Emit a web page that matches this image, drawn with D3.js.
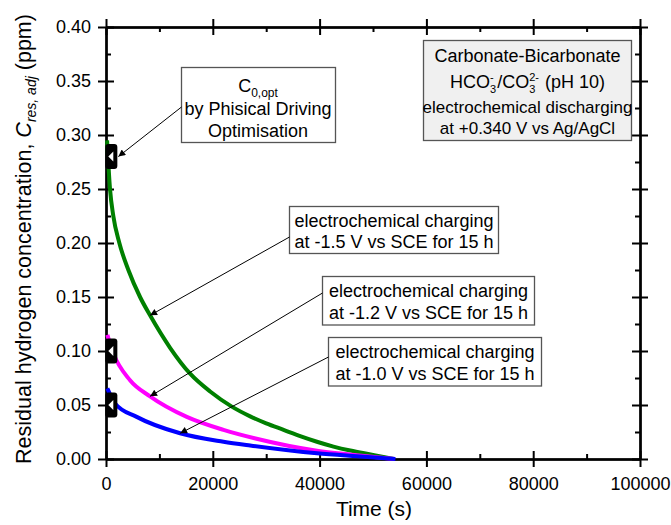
<!DOCTYPE html>
<html>
<head>
<meta charset="utf-8">
<script src="https://cdn.jsdelivr.net/npm/d3@7"></script>
<style>
  html, body { margin: 0; padding: 0; background: #fff; }
  svg { display: block; }
  text { font-family: "Liberation Sans", Arial, sans-serif; fill: #000; }
</style>
</head>
<body>
<svg id="chart" width="671" height="525"></svg>
<script>
// Residual hydrogen concentration during discharging, time in s, concentration in ppm
const time15 = [200, 750, 1370, 2500, 4190, 6375, 8250, 12000, 15750, 19500, 23560, 27000, 30000, 33250, 36500, 39500, 42600, 45750, 50000, 53870];
const conc15 = [0.295, 0.25, 0.225, 0.20, 0.175, 0.15, 0.133, 0.103, 0.079, 0.0625, 0.0485, 0.0395, 0.033, 0.027, 0.021, 0.016, 0.0115, 0.0078, 0.0038, 0.0];

const time12 = [250, 1370, 4500, 8250, 15130, 22000, 28000, 39500, 46000, 54000];
const conc12 = [0.115, 0.098, 0.073, 0.058, 0.039, 0.027, 0.019, 0.0077, 0.004, 0.0];

const time10 = [250, 1690, 5750, 13880, 22000, 27000, 39500, 47000, 54200];
const conc10 = [0.0654, 0.0515, 0.039, 0.0238, 0.016, 0.0125, 0.0053, 0.0025, 0.0];

// Optimised initial concentrations C0,opt
const c0Time = 1000;
const c0Values = [0.28, 0.10, 0.05];

const xTicks = [0, 20000, 40000, 60000, 80000, 100000];
const yTicks = [0.00, 0.05, 0.10, 0.15, 0.20, 0.25, 0.30, 0.35, 0.40];

const svg = d3.select("#chart");
const plotL = 106, plotR = 640, plotT = 27, plotB = 459;

const x = d3.scaleLinear().domain([0, 100000]).range([plotL, plotR]);
const y = d3.scaleLinear().domain([0, 0.4]).range([plotB, plotT]);

const xMinor = d3.range(0, 100001, 10000).filter(v => !xTicks.includes(v));
const yMinor = d3.range(0.025, 0.4, 0.05);

// ---- axes (box frame) ----
function styleAxis(g) {
  g.select(".domain").attr("stroke", "#000").attr("stroke-width", 2);
  g.selectAll(".tick line").attr("stroke", "#000").attr("stroke-width", 2);
  g.selectAll(".tick text").style("font-size", "18px").style("font-family", '"Liberation Sans", Arial, sans-serif');
}

// each side: outward major ticks, inward major ticks, inward minor ticks
function side(axisGen, scale, translate, majors, minors, fmt, pad) {
  svg.append("g").attr("transform", translate)
    .call(axisGen(scale).tickValues(majors).tickFormat(fmt || "").tickSizeInner(8).tickSizeOuter(0).tickPadding(pad || 3)).call(styleAxis);
  svg.append("g").attr("transform", translate)
    .call(axisGen(scale).tickValues(majors).tickFormat("").tickSizeInner(-8).tickSizeOuter(0)).call(styleAxis);
  svg.append("g").attr("transform", translate)
    .call(axisGen(scale).tickValues(minors).tickFormat("").tickSizeInner(-5).tickSizeOuter(0)).call(styleAxis);
}
side(d3.axisBottom, x, `translate(0,${plotB})`, xTicks, xMinor, d3.format("d"), 10);
side(d3.axisTop, x, `translate(0,${plotT})`, xTicks, xMinor);
side(d3.axisLeft, y, `translate(${plotL},0)`, yTicks, yMinor, d3.format(".2f"), 7);
side(d3.axisRight, y, `translate(${plotR},0)`, yTicks, yMinor);

// ---- axis titles ----
svg.append("text").attr("x", 374).attr("y", 516).attr("text-anchor", "middle")
  .style("font-size", "21px").text("Time (s)");

const yl = svg.append("text").attr("transform", "translate(31,239) rotate(-90)")
  .attr("text-anchor", "middle").style("font-size", "21.5px");
yl.append("tspan").text("Residual hydrogen concentration, ");
yl.append("tspan").style("font-style", "italic").text("C");
yl.append("tspan").style("font-style", "italic").style("font-size", "14px").attr("dy", 5).text("res, adj");
yl.append("tspan").attr("dy", -5).text(" (ppm)");

// ---- curves ----
const line = d3.line().x(d => x(d[0])).y(d => y(d[1])).curve(d3.curveMonotoneX);
const series = [
  { t: time15, c: conc15, color: "#008000" },
  { t: time12, c: conc12, color: "#ff00ff" },
  { t: time10, c: conc10, color: "#0000ff" }
];
svg.append("g").selectAll("path").data(series).join("path")
  .attr("d", s => line(s.t.map((t, i) => [t, s.c[i]])))
  .attr("fill", "none").attr("stroke", s => s.color).attr("stroke-width", 4);

// ---- C0,opt markers ----
const mk = svg.append("g").selectAll("g").data(c0Values).join("g")
  .attr("transform", v => `translate(${x(c0Time)},${y(v)})`);
mk.append("rect").attr("x", -6).attr("y", -12.5).attr("width", 12).attr("height", 25)
  .attr("rx", 3).attr("fill", "#000");
mk.append("path").attr("d", "M-3,0 L2,-5 L2,5 Z").attr("fill", "#fff");

// ---- annotations ----
const defs = svg.append("defs");
defs.append("marker").attr("id", "ah").attr("viewBox", "0 0 10 10")
  .attr("refX", 10).attr("refY", 5).attr("markerWidth", 11).attr("markerHeight", 7)
  .attr("markerUnits", "userSpaceOnUse").attr("orient", "auto")
  .append("path").attr("d", "M0,0 L10,5 L0,10 Z").attr("fill", "#000");

function arrow(x1, y1, x2, y2) {
  svg.append("line").attr("x1", x1).attr("y1", y1).attr("x2", x2).attr("y2", y2)
    .attr("stroke", "#000").attr("stroke-width", 1).attr("marker-end", "url(#ah)");
}
function box(bx, by, bw, bh, fill) {
  svg.append("rect").attr("x", bx).attr("y", by).attr("width", bw).attr("height", bh)
    .attr("fill", fill).attr("stroke", "#555").attr("stroke-width", 1.3);
}
function label(tx, ty, txt, size) {
  return svg.append("text").attr("x", tx).attr("y", ty).attr("text-anchor", "middle")
    .style("font-size", size + "px").text(txt);
}

// C0,opt box
box(181.5, 67.5, 154, 75, "#fff");
const c0 = svg.append("text").attr("x", 258).attr("y", 92).attr("text-anchor", "middle").style("font-size", "18px");
c0.append("tspan").text("C");
c0.append("tspan").style("font-size", "12px").attr("dy", 5).text("0,opt");
label(258, 115, "by Phisical Driving", 18);
label(258, 137, "Optimisation", 18);
arrow(181.5, 107, x(c0Time) + 7, y(c0Values[0]));

// electrolyte box
box(423.5, 40.5, 208, 100, "#f0f0f0");
label(527.5, 62, "Carbonate-Bicarbonate", 18);

// HCO3-/CO32- (pH 10): pieces laid out left to right, scripts stacked
(function () {
  const base = 88, cx = 527.5;
  const parts = [
    { t: "HCO", size: 18, dy: 0 },
    { t: "3", size: 11, dy: 5, sup: "-" },
    { t: "/CO", size: 18, dy: 0 },
    { t: "3", size: 11, dy: 5, sup: "2-" },
    { t: " (pH 10)", size: 18, dy: 0 }
  ];
  const g = svg.append("g");
  let cur = 0;
  parts.forEach(p => {
    const t = g.append("text").attr("x", cur).attr("y", base + p.dy)
      .style("font-size", p.size + "px").attr("xml:space", "preserve").text(p.t);
    let w = t.node().getComputedTextLength();
    if (p.sup) {
      const s = g.append("text").attr("x", cur).attr("y", base - 7)
        .style("font-size", p.size + "px").text(p.sup);
      w = Math.max(w, s.node().getComputedTextLength());
    }
    cur += w + (p.sup ? 1 : 0);
  });
  g.attr("transform", `translate(${cx - cur / 2},0)`);
})();

label(527.5, 113, "electrochemical discharging", 17);
label(527.5, 134, "at +0.340 V vs Ag/AgCl", 17);

// charging condition boxes
box(289.5, 206.5, 209, 47, "#fff");
label(394, 226.5, "electrochemical charging", 18);
label(394, 248, "at -1.5 V vs SCE for 15 h", 18);
arrow(289.5, 237, x(8250), y(0.133));

box(322.5, 276.5, 212, 48.5, "#fff");
label(428.5, 296.5, "electrochemical charging", 18);
label(428.5, 319, "at -1.2 V vs SCE for 15 h", 18);
arrow(322.5, 293, x(8250), y(0.058));

box(328.5, 337.5, 213, 48.5, "#fff");
label(435, 357.5, "electrochemical charging", 18);
label(435, 380, "at -1.0 V vs SCE for 15 h", 18);
arrow(328.5, 357, x(13880), y(0.0238));
</script>
</body>
</html>
